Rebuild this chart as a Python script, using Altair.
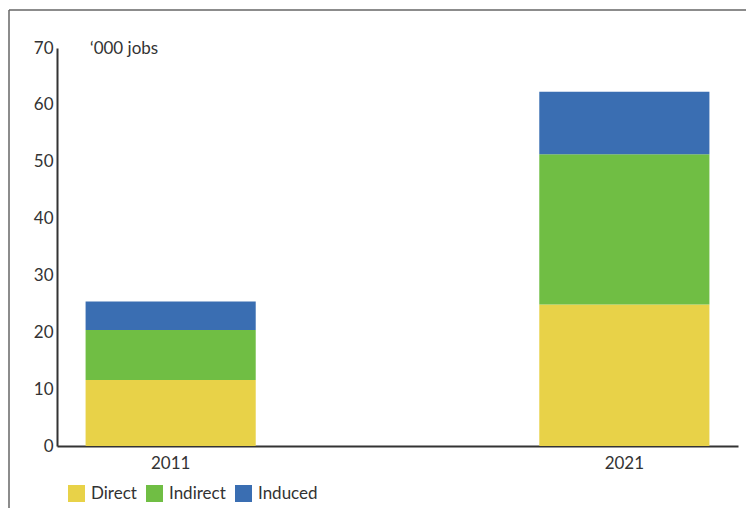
import altair as alt
import pandas as pd

years = ["2011", "2021"]
categories = ["Direct", "Indirect", "Induced"]
direct = [11.6, 24.9]
indirect = [8.8, 26.4]
induced = [5.0, 11.0]
colors = ["#E8D248", "#70BE44", "#3A6EB2"]
y_ticks = [0, 10, 20, 30, 40, 50, 60, 70]
unit_label = "\u2018000 jobs"

rows = []
for i, y in enumerate(years):
    for k, (cat, vals) in enumerate(zip(categories, [direct, indirect, induced])):
        rows.append({"year": y, "type": cat, "value": vals[i], "ord": k})
df = pd.DataFrame(rows)

FONT = "Lato"
FS = 17

bars = alt.Chart(df).mark_bar().encode(
    x=alt.X("year:N", title=None,
            scale=alt.Scale(paddingInner=0.625, paddingOuter=0.063),
            axis=alt.Axis(labelAngle=0, tickSize=0, labelPadding=9, labelFontSize=FS,
                          labelColor="#333333", domainColor="#333333", domainWidth=2,
                          labelFont=FONT)),
    y=alt.Y("value:Q", title=None, stack="zero",
            scale=alt.Scale(domain=[0, 70], nice=False),
            axis=alt.Axis(values=y_ticks, grid=False, tickSize=0, labelPadding=4,
                          labelFontSize=FS, labelColor="#333333", labelFont=FONT,
                          domainColor="#333333", domainWidth=2)),
    color=alt.Color("type:N", title=None,
                    scale=alt.Scale(domain=categories, range=colors),
                    legend=alt.Legend(orient="none", legendX=11, legendY=437,
                                      direction="horizontal", symbolType="square",
                                      symbolSize=289, symbolStrokeWidth=0,
                                      labelFontSize=FS, labelColor="#333333",
                                      labelOffset=6, columnPadding=9, labelFont=FONT)),
    order=alt.Order("ord:Q"),
)

one = alt.Data(values=[{"a": 1}])

unit = alt.Chart(one).mark_text(align="left", baseline="middle", fontSize=FS,
                                color="#333333", font=FONT).encode(
    x=alt.value(33), y=alt.value(1), text=alt.value(unit_label))

frame_v = alt.Chart(one).mark_rule(color="#666666", strokeWidth=1.5).encode(
    x=alt.value(-48), y=alt.value(-38), y2=alt.value(470))
frame_h = alt.Chart(one).mark_rule(color="#666666", strokeWidth=1.5).encode(
    x=alt.value(-48), x2=alt.value(700), y=alt.value(-38))

chart = alt.layer(bars, unit, frame_v, frame_h).properties(
    width=681, height=398,
    autosize=alt.AutoSizeParams(type="none"),
    padding={"left": 49, "top": 40, "right": 8, "bottom": 62},
).configure(font=FONT).configure_view(stroke=None)

chart.save("out.html", embed_options={"renderer": "svg", "actions": False})
